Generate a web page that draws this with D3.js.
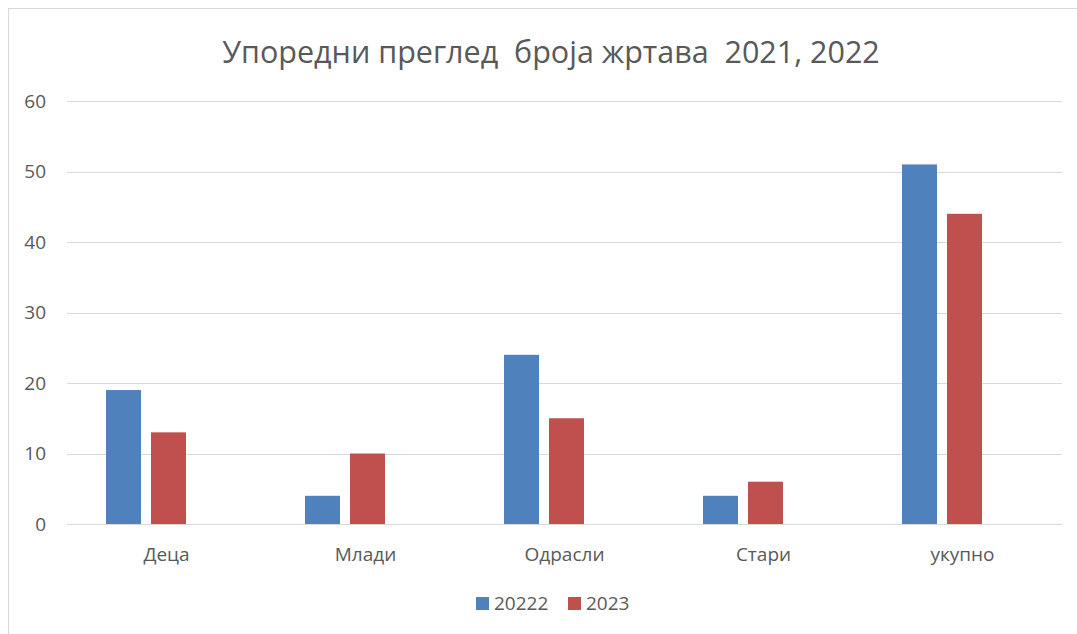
<!DOCTYPE html>
<html>
<head>
<meta charset="utf-8">
<script src="https://cdn.jsdelivr.net/npm/d3@7"></script>
<style>
  body { margin: 0; background: #fff; }
  text { font-family: "Open Sans", "Noto Sans", sans-serif; fill: #595959; }
</style>
</head>
<body>
<div id="chart"></div>
<script>
// Chart data
const categories = ["Деца", "Млади", "Одрасли", "Стари", "укупно"];
const seriesNames = ["20222", "2023"];
const values20222 = [19, 4, 24, 4, 51];
const values2023 = [13, 10, 15, 6, 44];
const yTicks = [0, 10, 20, 30, 40, 50, 60];
const colors = ["#4f81bd", "#c0504d"];

const W = 1077, H = 634;
const plot = {left: 67, right: 1062, top: 101, bottom: 524};
const labelSize = "19px";

const svg = d3.select("#chart")
  .append("svg")
  .attr("width", W)
  .attr("height", H);

// Outer chart frame
svg.append("rect")
  .attr("x", 8.5).attr("y", 8.5)
  .attr("width", W + 20).attr("height", H + 20)
  .attr("fill", "none")
  .attr("stroke", "#d9d9d9")
  .attr("stroke-width", 1);

// Scales
const x0 = d3.scaleBand()
  .domain(categories)
  .range([plot.left, plot.right]);

const x1 = d3.scaleBand()
  .domain(seriesNames)
  .range([0, 80])
  .paddingInner(10 / 45);

const y = d3.scaleLinear()
  .domain([0, 60])
  .range([plot.bottom, plot.top]);

// Gridlines
svg.append("g")
  .selectAll("line")
  .data(yTicks)
  .enter()
  .append("line")
  .attr("x1", plot.left)
  .attr("x2", plot.right)
  .attr("y1", d => Math.round(y(d)) + 0.5)
  .attr("y2", d => Math.round(y(d)) + 0.5)
  .attr("stroke", "#d9d9d9")
  .attr("stroke-width", 1);

// Y axis labels
const yAxis = svg.append("g")
  .attr("transform", `translate(${plot.left - 21},0)`)
  .call(d3.axisLeft(y).tickValues(yTicks).tickSize(0).tickPadding(0));
yAxis.select(".domain").remove();
yAxis.selectAll("text")
  .style("font-size", labelSize)
  .attr("fill", "#595959")
  .style("font-family", "'Open Sans', sans-serif");

// X axis labels
const xAxis = svg.append("g")
  .attr("transform", `translate(0,${plot.bottom})`)
  .call(d3.axisBottom(x0).tickSize(0).tickPadding(24));
xAxis.select(".domain").remove();
xAxis.selectAll("text")
  .style("font-size", labelSize)
  .attr("fill", "#595959")
  .style("font-family", "'Open Sans', sans-serif");

// Bars
const rows = categories.map((c, i) => ({
  cat: c,
  vals: [values20222[i], values2023[i]]
}));

const groups = svg.selectAll(".grp")
  .data(rows)
  .enter()
  .append("g")
  .attr("class", "grp")
  .attr("transform", d => `translate(${x0(d.cat) + x0.bandwidth() / 2 - 60.5},0)`);

groups.selectAll("rect")
  .data(d => d.vals.map((v, j) => ({name: seriesNames[j], v: v, j: j})))
  .enter()
  .append("rect")
  .attr("x", d => x1(d.name))
  .attr("y", d => y(d.v))
  .attr("width", x1.bandwidth())
  .attr("height", d => y(0) - y(d.v))
  .attr("fill", d => colors[d.j]);

// Title
svg.append("text")
  .attr("x", 551)
  .attr("y", 63)
  .attr("text-anchor", "middle")
  .style("font-size", "30.5px")
  .style("white-space", "pre")
  .attr("xml:space", "preserve")
  .text("Упоредни преглед  броја жртава  2021, 2022");

// Legend
const legendItems = [
  {name: seriesNames[0], x: 476, color: colors[0]},
  {name: seriesNames[1], x: 568, color: colors[1]}
];
const legend = svg.append("g");
legend.selectAll("rect")
  .data(legendItems)
  .enter()
  .append("rect")
  .attr("x", d => d.x)
  .attr("y", 597)
  .attr("width", 13)
  .attr("height", 13)
  .attr("fill", d => d.color);
legend.selectAll("text")
  .data(legendItems)
  .enter()
  .append("text")
  .attr("x", d => d.x + 18)
  .attr("y", 610)
  .style("font-size", labelSize)
  .text(d => d.name);
</script>
</body>
</html>
